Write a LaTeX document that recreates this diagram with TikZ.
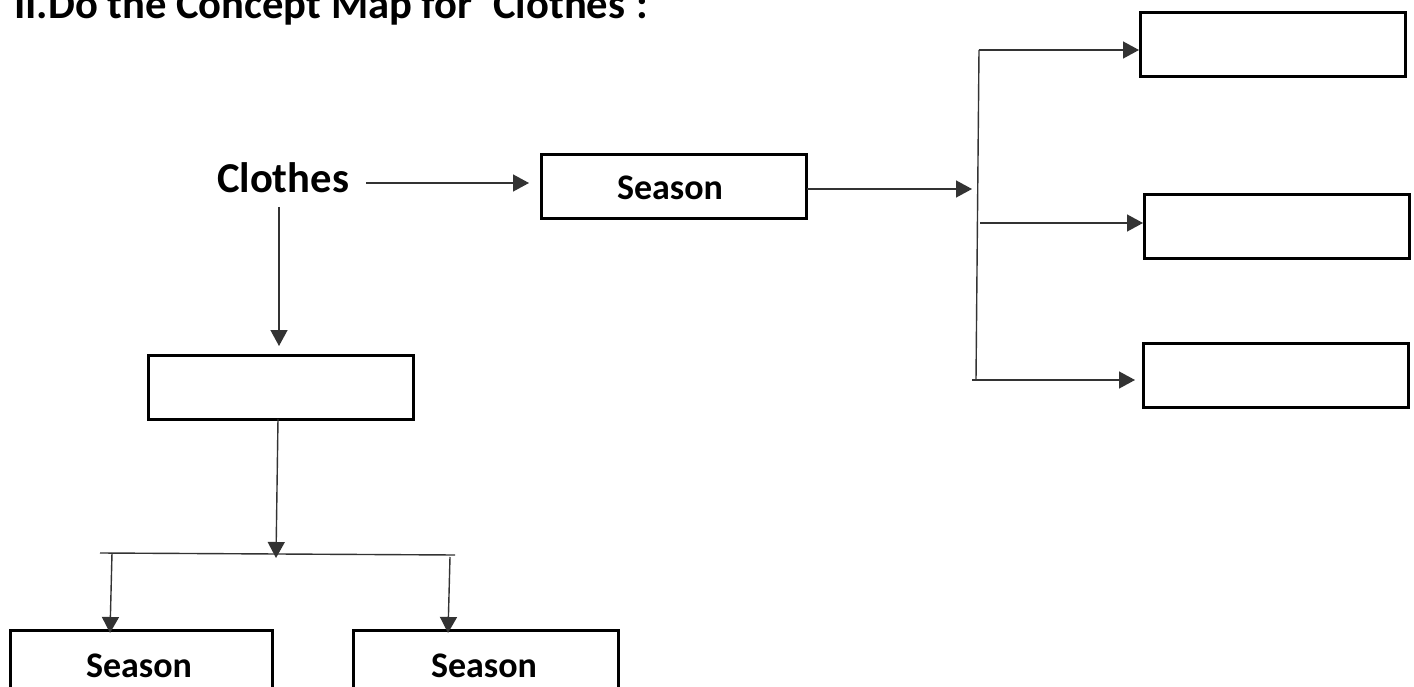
\documentclass[tikz,border=0pt]{standalone}
\usepackage{fontspec}
\setmainfont{Carlito}
\usetikzlibrary{arrows.meta}
\begin{document}
\begin{tikzpicture}[x=1pt,y=-1pt,
  conn/.style={draw=black!80,line width=1.4pt},
  arr/.style={conn,-{Triangle[length=16pt,width=17pt]}},
  box/.style={draw=black,line width=3pt,minimum width=265pt,minimum height=64pt,inner sep=0pt,anchor=north west},
  big/.style={font=\fontsize{42.6}{50}\selectfont\bfseries,inner sep=0pt},
  small/.style={font=\fontsize{36}{42}\selectfont\bfseries,inner sep=0pt}]
\useasboundingbox (0,0) rectangle (1414,687);
% title
\node[big,anchor=base west] (title) at (14,19) {II.Do the Concept Map for ‘Clothes’:};
% main concept
\node[big,anchor=base] (clothes) at (283,193) {Clothes};
% top season box
\node[box] (s1) at (540,153) {};
\node[small,anchor=base] (s1t) at (670,200) {Season};
% right boxes
\node[box] (r1) at (1139,11) {};
\node[box] (r2) at (1143,193) {};
\node[box] (r3) at (1142,342) {};
% left box
\node[box] (l1) at (147,354) {};
% bottom boxes
\node[box,minimum width=262pt] (b1) at (9,629) {};
\node[small,anchor=base] (b1t) at (139,677) {Season};
\node[box] (b2) at (352,629) {};
\node[small,anchor=base] (b2t) at (484,677) {Season};
% coordinates
\coordinate (c1) at (366,183);
\coordinate (c1e) at (529,183);
\coordinate (s1o) at (807,189);
\coordinate (s1e) at (972,189);
\coordinate (vtop) at (979,50);
\coordinate (vm2) at (980,223);
\coordinate (vbot) at (976,380);
\coordinate (vbl) at (972,380);
\coordinate (vble) at (1135,380);
\coordinate (d1) at (279,207);
\coordinate (d1e) at (279,346);
\coordinate (d2) at (278,419);
\coordinate (d2e) at (276,558);
\coordinate (hl) at (100,553);
\coordinate (hr) at (455,555);
\coordinate (a1) at (112,553);
\coordinate (a1e) at (110,633);
\coordinate (a2) at (450,557);
\coordinate (a2e) at (448,633);
% connectors
\draw[arr] (c1) -- (c1e);
\draw[arr] (s1o) -- (s1e);
\draw[conn] (vtop) -- (vbot);
\draw[arr] (vtop) -- (vtop -| r1.west);
\draw[arr] (vm2) -- (vm2 -| r2.west);
\draw[arr] (vbl) -- (vble);
\draw[arr] (d1) -- (d1e);
\draw[arr] (d2) -- (d2e);
\draw[conn] (hl) -- (hr);
\draw[arr] (a1) -- (a1e);
\draw[arr] (a2) -- (a2e);
\end{tikzpicture}
\end{document}
